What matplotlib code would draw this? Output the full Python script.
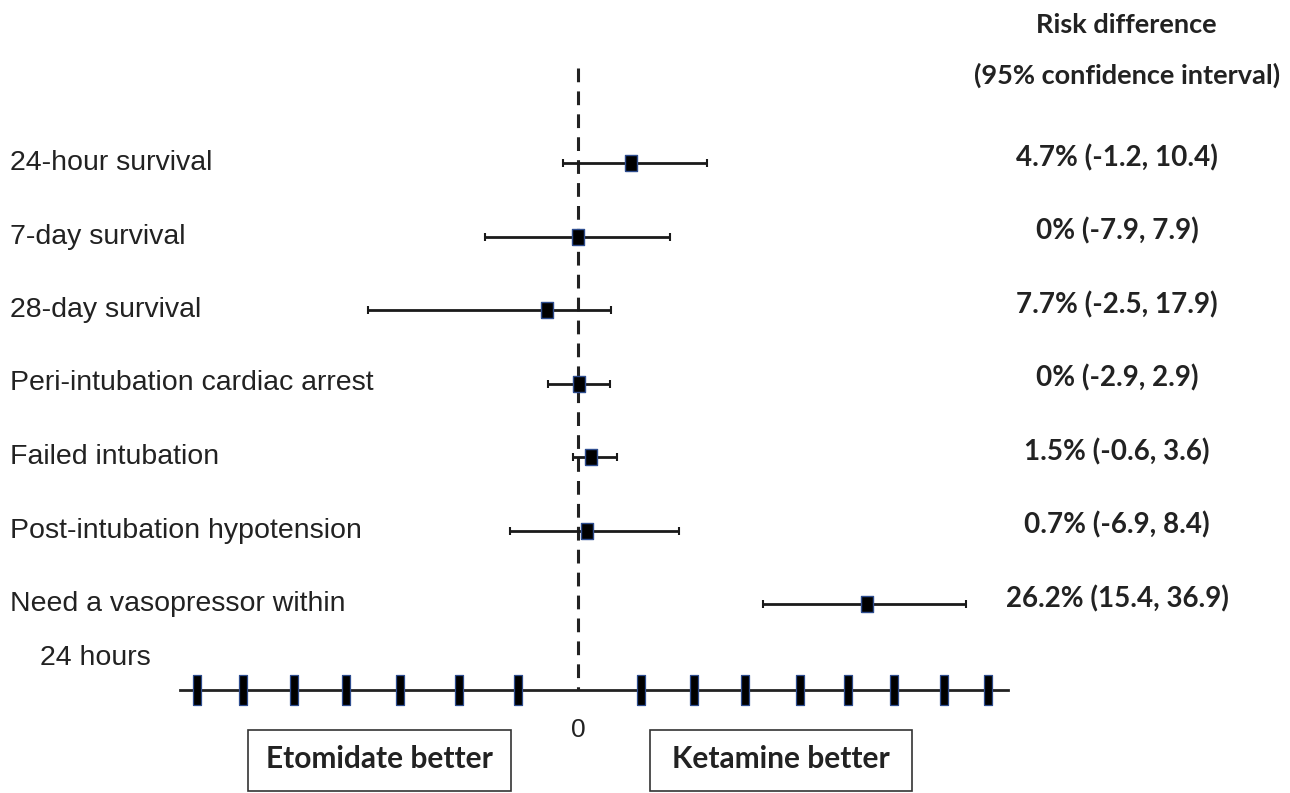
"""Forest plot: risk difference, ketamine vs etomidate."""

import matplotlib

matplotlib.use("Agg")

import matplotlib.pyplot as plt
from matplotlib.patches import Rectangle
from matplotlib.transforms import blended_transform_factory

OUTCOMES = [
    "24-hour survival",
    "7-day survival",
    "28-day survival",
    "Peri-intubation cardiac arrest",
    "Failed intubation",
    "Post-intubation hypotension",
    "Need a vasopressor within\n24 hours",
]
# positions of the drawn marks (risk difference, %)
POINT = [4.8, 0.0, -2.8, 0.1, 1.2, 0.8, 26.3]
LOWER = [-1.4, -8.5, -19.1, -2.7, -0.5, -6.2, 16.8]
UPPER = [11.7, 8.4, 3.0, 2.9, 3.5, 9.2, 35.3]
# printed estimates
RD_TEXT = [
    "4.7% (-1.2, 10.4)",
    "0% (-7.9, 7.9)",
    "7.7% (-2.5, 17.9)",
    "0% (-2.9, 2.9)",
    "1.5% (-0.6, 3.6)",
    "0.7% (-6.9, 8.4)",
    "26.2% (15.4, 36.9)",
]
AXIS_TICKS = [-34.6, -30.5, -25.8, -21.1, -16.2, -10.8, -5.5,
              5.7, 10.5, 15.2, 20.2, 24.5, 28.7, 33.3, 37.3]

LABEL_FONT = "Liberation Sans"
BOLD_FONT = "Lato"
EDGE_BLUE = "#2E4D8F"
INK = "#222222"

W, H = 1290, 793
PX_PER_UNIT = 11.0
ZERO_PX = 578
ROW0_PX, ROW_STEP = 163, 73.5

fig = plt.figure(figsize=(W / 100, H / 100), dpi=100, facecolor="white")
ax = fig.add_axes([0, 0, 1, 1])
ax.set_xlim(-ZERO_PX / PX_PER_UNIT, (W - ZERO_PX) / PX_PER_UNIT)
ax.set_ylim((H - ROW0_PX) / ROW_STEP, -ROW0_PX / ROW_STEP)
ax.set_axis_off()

rows = list(range(len(OUTCOMES)))
axis_y = (690 - ROW0_PX) / ROW_STEP
top_y = (68 - ROW0_PX) / ROW_STEP

# null line
ax.plot([0, 0], [top_y, axis_y], color=INK, lw=2.2, ls=(0, (4.5, 3)), zorder=1)

# axis with chunky ticks
ax.plot([-36.2, 39.1], [axis_y, axis_y], color=INK, lw=2.0, zorder=2)
rect = [(-0.3, -1), (0.3, -1), (0.3, 1), (-0.3, 1), (-0.3, -1)]
ax.plot(AXIS_TICKS, [axis_y] * len(AXIS_TICKS), ls="none", marker=rect,
        markersize=21.5, color="black", markeredgecolor=EDGE_BLUE, mew=0.9, zorder=3)
ax.text(0, (730 - ROW0_PX) / ROW_STEP, "0", ha="center", va="center",
        fontsize=19, family=LABEL_FONT, color=INK)

# CIs and point estimates
xerr = [[p - lo for p, lo in zip(POINT, LOWER)], [hi - p for p, hi in zip(POINT, UPPER)]]
ax.errorbar(POINT, rows, xerr=xerr, fmt="none", ecolor="#1a1a1a", elinewidth=2.0,
            capsize=3, capthick=1.5, zorder=4)
pt_marker = [(-0.36, -0.5), (0.36, -0.5), (0.36, 0.5), (-0.36, 0.5), (-0.36, -0.5)]
ax.plot(POINT, rows, ls="none", marker=pt_marker, markersize=11.5, color="black",
        markeredgecolor=EDGE_BLUE, mew=1.0, zorder=5)

trans = blended_transform_factory(ax.transAxes, ax.transData)
for i, (name, rd) in enumerate(zip(OUTCOMES, RD_TEXT)):
    first, _, rest = name.partition("\n")
    ax.text(10 / W, i, first, transform=trans, ha="left", va="center",
            fontsize=20.5, family=LABEL_FONT, color=INK)
    if rest:
        ax.text(40 / W, (658 - ROW0_PX) / ROW_STEP, rest, transform=trans, ha="left",
                va="center", fontsize=20.5, family=LABEL_FONT, color=INK)
    ax.text(1117 / W, i - 0.07, rd, transform=trans, ha="center", va="center",
            fontsize=20, family=BOLD_FONT, fontweight="bold", color=INK)

fig.text(1126 / W, 1 - 25 / H, "Risk difference", ha="center", va="center",
         fontsize=19.5, family=BOLD_FONT, fontweight="bold", color=INK)
fig.text(1127 / W, 1 - 75 / H, "(95% confidence interval)", ha="center", va="center",
         fontsize=19.5, family=BOLD_FONT, fontweight="bold", color=INK)

# direction boxes
for x0, x1, label in [(248, 511, "Etomidate better"), (650, 912, "Ketamine better")]:
    fig.patches.append(Rectangle((x0 / W, 1 - 791 / H), (x1 - x0) / W, 61 / H,
                                 transform=fig.transFigure, fill=False,
                                 ec="#333333", lw=1.2))
    fig.text((x0 + x1) / 2 / W, 1 - 759 / H, label, ha="center", va="center",
             fontsize=21.5, family=BOLD_FONT, fontweight="bold", color=INK)

fig.savefig("out.png", dpi=100, facecolor="white")
